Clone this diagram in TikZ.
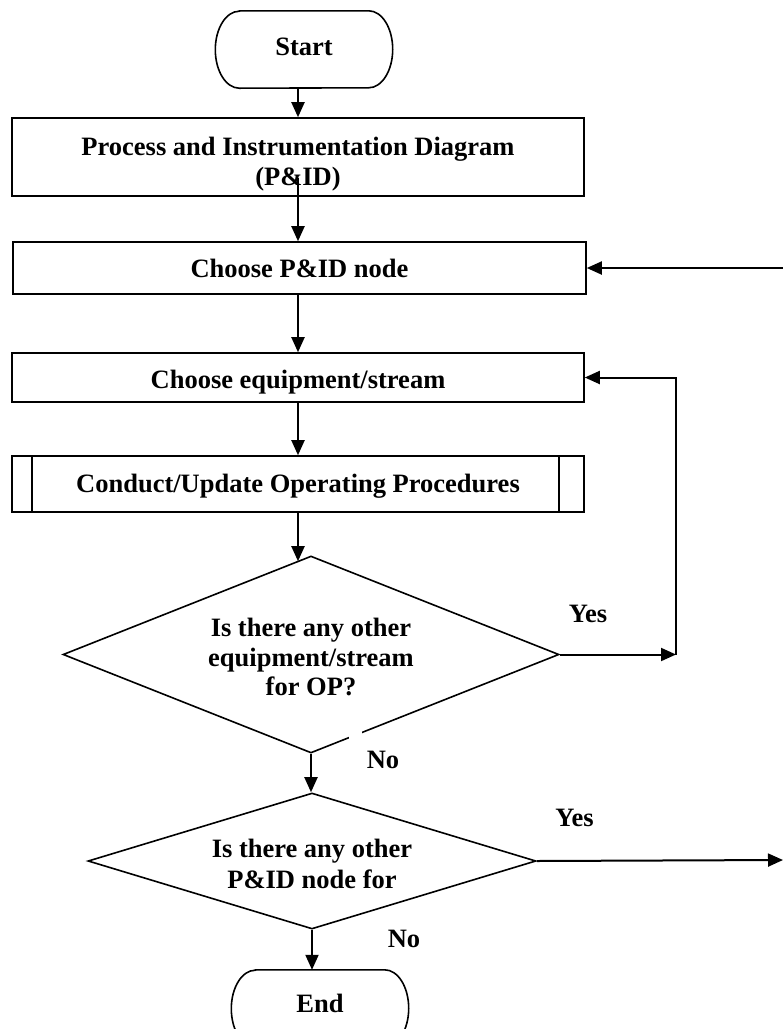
\documentclass[tikz,border=0pt]{standalone}
\usepackage{fontspec}
\setmainfont{Liberation Serif}
\usetikzlibrary{shapes.geometric,arrows.meta,calc}
\tikzset{
  txt/.style={font=\fontsize{26.5}{30.5}\selectfont\bfseries, align=center, text height=17.5pt, text depth=0pt, inner sep=0pt},
  boxnode/.style={txt, draw, line width=1.6pt, minimum width=572pt},
  termnode/.style={txt, minimum width=177pt, minimum height=77pt},
  decnode/.style={shape=diamond, draw, line width=1.6pt, inner sep=0pt},
  arr/.style={line width=2pt, -{Triangle[length=15pt,width=13pt]}},
  termline/.style={line width=1.6pt},
  lbl/.style={txt}
}
\begin{document}
\begin{tikzpicture}[x=1pt,y=-1pt]
\useasboundingbox (0,0) rectangle (783,1029);
\clip (0,0) rectangle (783,1029);
% terminals
\node[termnode, text depth=6pt] (start) at (304,49.5) {Start};
\draw[termline] ([xshift=24pt]start.north west) -- ([xshift=-24pt]start.north east)
  arc[start angle=90,end angle=-90,x radius=24pt,y radius=38.5pt]
  -- ([xshift=24pt]start.south west)
  arc[start angle=270,end angle=90,x radius=24pt,y radius=38.5pt] -- cycle;
% boxes
\node[boxnode, minimum height=78pt, text height=57.5pt] (p1) at (298,157) {Process and Instrumentation Diagram\\(P\&ID)};
\node[boxnode, minimum height=52pt, minimum width=573pt, text height=18.5pt] (p2) at (299.5,268) {Choose P\&ID node};
\node[boxnode, minimum height=49pt, text height=22.5pt] (p3) at (298,377.5) {Choose equipment/stream};
\node[boxnode, minimum height=56pt] (p4) at (298,484) {Conduct/Update Operating Procedures};
\draw[termline] ([xshift=21pt]p4.north west) -- ([xshift=21pt]p4.south west);
\draw[termline] ([xshift=-26pt]p4.north east) -- ([xshift=-26pt]p4.south east);
% decisions
\node[decnode, minimum width=496pt, minimum height=197pt,
  label={[txt, text height=82.5pt, font=\fontsize{26.5}{29.5}\selectfont\bfseries]center:{Is there any other\\equipment/stream\\for OP?}}] (d1) at (311,654.5) {};
\fill[white] (349,730) rectangle (362,741);
\node[decnode, minimum width=448pt, minimum height=136pt,
  label={[txt, text height=54.5pt, font=\fontsize{26.5}{31}\selectfont\bfseries]center:{Is there any other\\P\&ID node for}}] (d2) at (312,861) {};
% end
\node[termnode, text depth=10pt] (end) at (320,1008.5) {End};
\draw[termline] ([xshift=24pt]end.north west) -- ([xshift=-24pt]end.north east)
  arc[start angle=90,end angle=-90,x radius=24pt,y radius=38.5pt]
  -- ([xshift=24pt]end.south west)
  arc[start angle=270,end angle=90,x radius=24pt,y radius=38.5pt] -- cycle;
% labels
\node[lbl] (yes1) at (588,613.5) {Yes};
\node[lbl] (no1) at (383,760) {No};
\node[lbl] (yes2) at (574.5,818) {Yes};
\node[lbl] (no2) at (404,938.5) {No};
% coordinates
\coordinate (c1) at (676,654.5);
\coordinate (c2) at (783,860);
\coordinate (c3) at (783,268);
% connectors
\draw[arr] (p1.north |- start.south) -- (p1.north);
\draw[arr] ([yshift=-21pt]p1.center) -- (p2.north -| p1.north);
\draw[arr] (p2.south -| p1.north) -- (p3.north);
\draw[arr] (p3.south) -- (p4.north);
\draw[arr] (p4.south) -- ([yshift=-6pt]p4.south |- d1.north);
\draw[arr] (d1.east) -- (c1);
\draw[arr] (c1) |- (p3.east);
\draw[arr] (d1.south) -- (d2.north -| d1.south);
\draw[arr] (d2.east) -- (c2);
\draw[arr] (c3) -- (p2.east);
\draw[arr] (d2.south) -- (end.north -| d2.south);
\end{tikzpicture}
\end{document}
